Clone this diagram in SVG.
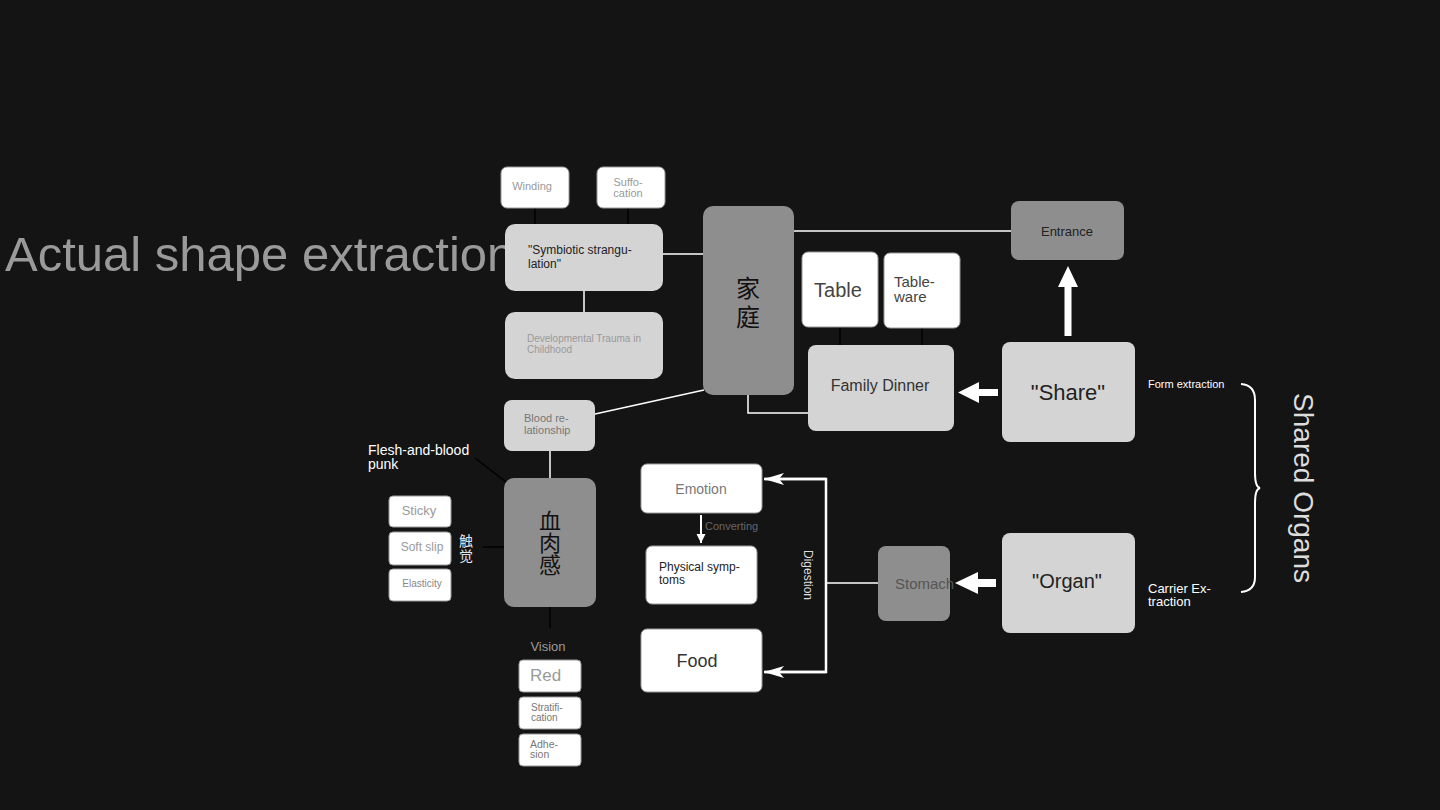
<svg xmlns="http://www.w3.org/2000/svg" width="1440" height="810" viewBox="0 0 1440 810">
<defs>
<style>
text{font-family:"Liberation Sans",Arial,"Noto Sans CJK SC",sans-serif}
.w{fill:#ffffff;stroke:#9a9a9a;stroke-width:1}
.lg{fill:#d4d4d4}
.dg{fill:#8e8e8e}
.wl{stroke:#ffffff;stroke-width:1.5;fill:none}
.bl{stroke:#000000;stroke-width:1.5;fill:none}
.c{text-anchor:middle}
.fat{fill:#ffffff}
</style>
<marker id="ah" viewBox="0 0 20 12" refX="20" refY="6" markerWidth="22" markerHeight="12" markerUnits="userSpaceOnUse" orient="auto">
<path d="M0,0 L20,6 L0,12 L5,6 Z" fill="#ffffff"/>
</marker>
<marker id="ah2" viewBox="0 0 10 10" refX="10" refY="5" markerWidth="9" markerHeight="14" markerUnits="userSpaceOnUse" orient="auto">
<path d="M0,0 L10,5 L0,10 Z" fill="#ffffff"/>
</marker>
</defs>
<rect width="1440" height="810" fill="#141414"/>

<text x="5" y="271" font-size="49" fill="#9a9a9a">Actual shape extraction</text>

<g id="connectors">
<line class="bl" x1="535" y1="208" x2="535" y2="225"/>
<line class="bl" x1="628" y1="208" x2="628" y2="225"/>
<line class="wl" x1="663" y1="254" x2="704" y2="254"/>
<line class="wl" x1="584" y1="291" x2="584" y2="312"/>
<line class="wl" x1="794" y1="231" x2="1011" y2="231"/>
<line class="bl" x1="840" y1="327" x2="840" y2="345"/>
<line class="bl" x1="922" y1="328" x2="922" y2="345"/>
<polyline class="wl" points="748,395 748,413 808,413"/>
<line class="wl" x1="595" y1="414" x2="704" y2="390"/>
<line class="wl" x1="550" y1="451" x2="550" y2="478"/>
<line class="bl" x1="475" y1="458" x2="506" y2="482"/>
<line class="bl" x1="483" y1="547" x2="504" y2="547"/>
<line class="bl" x1="550" y1="607" x2="550" y2="628"/>
<line stroke="#ffffff" stroke-width="2" x1="701" y1="515" x2="701" y2="543" marker-end="url(#ah2)"/>
<polyline stroke="#ffffff" stroke-width="2.5" fill="none" points="765,479 826,479 826,672 765,672"/>
<line stroke="#ffffff" stroke-width="2.5" x1="826" y1="479" x2="764" y2="479" marker-end="url(#ah)"/>
<line stroke="#ffffff" stroke-width="2.5" x1="826" y1="672" x2="764" y2="672" marker-end="url(#ah)"/>
<line class="wl" x1="826" y1="583" x2="878" y2="583"/>
<path class="fat" d="M1064.5,336 L1064.5,287 L1058,287 L1068,266 L1078,287 L1071.5,287 L1071.5,336 Z"/>
<path class="fat" d="M998,389 L979,389 L979,382 L958,392.5 L979,403 L979,396 L998,396 Z"/>
<path d="M1241,384 Q1255,385 1255,400 L1255,473 Q1255,487 1260,488 Q1255,489 1255,503 L1255,577 Q1255,591 1241,592" stroke="#ffffff" stroke-width="2" fill="none"/>
</g>

<g id="winding">
<rect class="w" x="501" y="167" width="68" height="41" rx="6"/>
<text class="c" x="532" y="190" font-size="11" fill="#9a9a9a">Winding</text>
</g>
<g id="suffocation">
<rect class="w" x="597" y="167" width="68" height="41" rx="6"/>
<text class="c" x="628" y="186" font-size="11" fill="#9a9a9a">Suffo-</text>
<text class="c" x="628" y="197" font-size="11" fill="#9a9a9a">cation</text>
</g>
<g id="symbiotic">
<rect class="lg" x="505" y="224" width="158" height="67" rx="10"/>
<text x="528" y="254" font-size="12" fill="#222">"Symbiotic strangu-</text>
<text x="528" y="268" font-size="12" fill="#222">lation"</text>
</g>
<g id="developmental">
<rect class="lg" x="505" y="312" width="158" height="67" rx="10"/>
<text x="527" y="342" font-size="10" fill="#9a9a9a">Developmental Trauma in</text>
<text x="527" y="353" font-size="10" fill="#9a9a9a">Childhood</text>
</g>
<g id="jiating">
<rect class="dg" x="703" y="206" width="91" height="189" rx="10"/>
<text class="c" x="748" y="297" font-size="24" fill="#111">家</text>
<text class="c" x="748" y="326" font-size="24" fill="#111">庭</text>
</g>
<g id="entrance">
<rect class="dg" x="1011" y="201" width="113" height="59" rx="8"/>
<text class="c" x="1067" y="236" font-size="13" fill="#222">Entrance</text>
</g>
<g id="table">
<rect class="w" x="802" y="252" width="76" height="75" rx="6"/>
<text class="c" x="838" y="297" font-size="20" fill="#444">Table</text>
</g>
<g id="tableware">
<rect class="w" x="884" y="253" width="76" height="75" rx="6"/>
<text x="894" y="287" font-size="15" fill="#444">Table-</text>
<text x="894" y="302" font-size="15" fill="#444">ware</text>
</g>
<g id="familydinner">
<rect class="lg" x="808" y="345" width="146" height="86" rx="8"/>
<text class="c" x="880" y="391" font-size="16" fill="#333">Family Dinner</text>
</g>
<g id="share">
<rect class="lg" x="1002" y="342" width="133" height="100" rx="8"/>
<text class="c" x="1068" y="400" font-size="22" fill="#222">"Share"</text>
</g>
<g id="blood">
<rect class="lg" x="504" y="400" width="91" height="51" rx="8"/>
<text x="524" y="422" font-size="11" fill="#777">Blood re-</text>
<text x="524" y="434" font-size="11" fill="#777">lationship</text>
</g>
<g id="xuerougan">
<rect class="dg" x="504" y="478" width="92" height="129" rx="10"/>
<text class="c" x="550" y="529" font-size="22" fill="#111">血</text>
<text class="c" x="550" y="551" font-size="22" fill="#111">肉</text>
<text class="c" x="550" y="573" font-size="22" fill="#111">感</text>
</g>
<g id="flesh">
<text x="368" y="455" font-size="14" fill="#ffffff">Flesh-and-blood</text>
<text x="368" y="469" font-size="14" fill="#ffffff">punk</text>
</g>
<g id="chujue">
<text class="c" x="466" y="546" font-size="14" fill="#e6e6e6">触</text>
<text class="c" x="466" y="561" font-size="14" fill="#e6e6e6">觉</text>
</g>
<g id="sticky">
<rect class="w" x="389" y="496" width="62" height="31" rx="4"/>
<text class="c" x="419" y="515" font-size="13" fill="#9a9a9a">Sticky</text>
</g>
<g id="softslip">
<rect class="w" x="389" y="532" width="62" height="33" rx="4"/>
<text class="c" x="422" y="551" font-size="12" fill="#9a9a9a">Soft slip</text>
</g>
<g id="elasticity">
<rect class="w" x="389" y="569" width="62" height="32" rx="4"/>
<text class="c" x="422" y="587" font-size="10" fill="#888">Elasticity</text>
</g>
<g id="vision">
<text class="c" x="548" y="651" font-size="13" fill="#9a9a9a">Vision</text>
</g>
<g id="red">
<rect class="w" x="519" y="660" width="62" height="32" rx="4"/>
<text x="530" y="681" font-size="17" fill="#9a9a9a">Red</text>
</g>
<g id="stratification">
<rect class="w" x="519" y="697" width="62" height="32" rx="4"/>
<text x="531" y="711" font-size="10" fill="#777">Stratifi-</text>
<text x="531" y="721" font-size="10" fill="#777">cation</text>
</g>
<g id="adhesion">
<rect class="w" x="519" y="734" width="62" height="32" rx="4"/>
<text x="530" y="748" font-size="10.5" fill="#777">Adhe-</text>
<text x="530" y="758" font-size="10.5" fill="#777">sion</text>
</g>
<g id="emotion">
<rect class="w" x="641" y="464" width="121" height="49" rx="6"/>
<text class="c" x="701" y="494" font-size="14" fill="#777">Emotion</text>
</g>
<g id="converting">
<text x="705" y="530" font-size="11" fill="#666">Converting</text>
</g>
<g id="physical">
<rect class="w" x="646" y="546" width="111" height="58" rx="6"/>
<text x="659" y="571" font-size="12" fill="#222">Physical symp-</text>
<text x="659" y="584" font-size="12" fill="#222">toms</text>
</g>
<g id="food">
<rect class="w" x="641" y="629" width="121" height="63" rx="6"/>
<text class="c" x="697" y="667" font-size="18" fill="#333">Food</text>
</g>
<g id="digestion">
<text class="c" transform="translate(808,575) rotate(90)" y="4" font-size="12" fill="#dddddd">Digestion</text>
</g>
<g id="stomach">
<rect class="dg" x="878" y="546" width="72" height="75" rx="8"/>
<text x="895" y="589" font-size="15" fill="#555">Stomach</text>
</g>
<path class="fat" d="M996,579 L978,579 L978,572 L955,583 L978,594 L978,587 L996,587 Z"/>
<g id="organ">
<rect class="lg" x="1002" y="533" width="133" height="100" rx="8"/>
<text class="c" x="1067" y="588" font-size="20" fill="#222">"Organ"</text>
</g>
<g id="formextraction">
<text x="1148" y="388" font-size="11" fill="#ffffff">Form extraction</text>
</g>
<g id="carrier">
<text x="1148" y="593" font-size="13" fill="#ffffff">Carrier Ex-</text>
<text x="1148" y="606" font-size="13" fill="#ffffff">traction</text>
</g>
<g id="sharedorgans">
<text class="c" transform="translate(1304,488) rotate(90)" y="10" font-size="28" fill="#dddddd">Shared Organs</text>
</g>
</svg>
